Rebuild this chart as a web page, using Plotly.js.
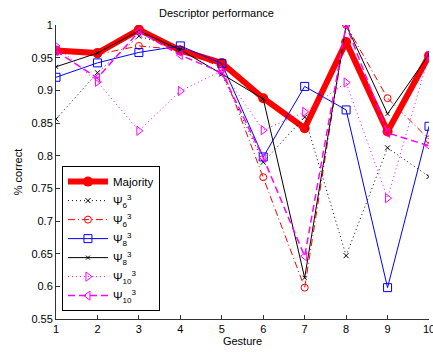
<!DOCTYPE html>
<html>
<head>
<meta charset="utf-8">
<script src="https://cdn.plot.ly/plotly-3.0.1.min.js"></script>
<style>html,body{margin:0;padding:0;background:#fff}#chart{width:433px;height:352px}</style>
</head>
<body>
<div id="chart"></div>
<script>
const gestures = [1, 2, 3, 4, 5, 6, 7, 8, 9, 10];
const majority = [0.961, 0.957, 0.993, 0.961, 0.942, 0.888, 0.842, 0.974, 0.837, 0.953];
const psi6Dot  = [0.856, 0.927, 0.983, 0.963, 0.925, 0.790, 0.859, 0.647, 0.812, 0.768];
const psi6Dash = [0.960, 0.955, 0.968, 0.962, 0.935, 0.767, 0.598, 1.000, 0.888, 0.825];
const psi8Sq   = [0.920, 0.942, 0.958, 0.968, 0.941, 0.798, 0.906, 0.870, 0.598, 0.845];
const psi8X    = [0.936, 0.957, 0.991, 0.962, 0.925, 0.887, 0.613, 1.000, 0.864, 0.955];
const psi10Dot = [0.968, 0.913, 0.838, 0.899, 0.930, 0.839, 0.867, 0.912, 0.735, 0.953];
const psi10Dash= [0.960, 0.919, 0.990, 0.954, 0.927, 0.797, 0.646, 1.000, 0.835, 0.815];
const seriesNames = ['Majority', 'Ψ<sub>6</sub><sup>3</sup>', 'Ψ<sub>6</sub><sup>3</sup>', 'Ψ<sub>8</sub><sup>3</sup>', 'Ψ<sub>8</sub><sup>3</sup>', 'Ψ<sub>10</sub><sup>3</sup>', 'Ψ<sub>10</sub><sup>3</sup>'];
const yTicks = [0.55, 0.6, 0.65, 0.7, 0.75, 0.8, 0.85, 0.9, 0.95, 1];
const yTickText = ['0.55', '0.6', '0.65', '0.7', '0.75', '0.8', '0.85', '0.9', '0.95', '1'];

const traces = [
  {x: gestures, y: majority, name: seriesNames[0], mode: 'lines+markers',
   line: {color: '#ff0000', width: 6}, marker: {symbol: 'circle', size: 10, color: '#ff0000'}},
  {x: gestures, y: psi6Dot, name: seriesNames[1], mode: 'lines+markers',
   line: {color: '#000000', width: 1, dash: '1px,3px'}, marker: {symbol: 'x-thin-open', size: 5, color: '#000', line: {width: 1, color: '#000'}}},
  {x: gestures, y: psi6Dash, name: seriesNames[2], mode: 'lines+markers',
   line: {color: '#ff0000', width: 1, dash: '7px,3px,1px,3px'}, marker: {symbol: 'circle-open', size: 7, color: '#ff0000', line: {width: 1}}},
  {x: gestures, y: psi8Sq, name: seriesNames[3], mode: 'lines+markers',
   line: {color: '#0000ff', width: 1}, marker: {symbol: 'square-open', size: 8, color: '#0000ff', line: {width: 1}}},
  {x: gestures, y: psi8X, name: seriesNames[4], mode: 'lines+markers',
   line: {color: '#000000', width: 1}, marker: {symbol: 'x-thin-open', size: 4, color: '#000', line: {width: 1, color: '#000'}}},
  {x: gestures, y: psi10Dot, name: seriesNames[5], mode: 'lines+markers',
   line: {color: '#ff00ff', width: 1, dash: '1px,3px'}, marker: {symbol: 'triangle-right-open', size: 8, color: '#ff00ff', line: {width: 1}}},
  {x: gestures, y: psi10Dash, name: seriesNames[6], mode: 'lines+markers',
   line: {color: '#ff00ff', width: 1.5, dash: '7px,4px'}, marker: {symbol: 'triangle-left-open', size: 8, color: '#ff00ff', line: {width: 1}}}
];

const layout = {
  width: 433, height: 352,
  margin: {l: 56, r: 4, t: 25, b: 33},
  paper_bgcolor: '#fff', plot_bgcolor: '#fff',
  font: {family: '"Liberation Sans", Arial, sans-serif', size: 11, color: '#000'},
  title: {text: 'Descriptor performance', font: {size: 11, color: '#000'}, x: 0.5, xanchor: 'center', y: 0.963, yanchor: 'middle'},
  showlegend: true,
  legend: {x: 0.016, y: 0.52, xanchor: 'left', yanchor: 'top', bgcolor: '#fff', bordercolor: '#000', borderwidth: 1,
           font: {size: 11.5, color: '#000'}, itemwidth: 40, tracegroupgap: 0},
  xaxis: {range: [1, 10], tickvals: gestures, ticks: 'inside', ticklen: 4, tickcolor: '#333', ticklabeloverflow: 'allow',
          showgrid: false, zeroline: false, showline: true, linecolor: '#333', linewidth: 1, mirror: false,
          title: {text: 'Gesture', font: {size: 11}, standoff: 2}, tickfont: {size: 11}},
  yaxis: {range: [0.55, 1], tickvals: yTicks, ticktext: yTickText, ticks: 'inside', ticklen: 4, tickcolor: '#333',
          showgrid: false, zeroline: false, showline: true, linecolor: '#333', linewidth: 1, mirror: false,
          title: {text: '% correct', font: {size: 11}, standoff: 6}, tickfont: {size: 11}}
};

Plotly.newPlot('chart', traces, layout, {displayModeBar: false, staticPlot: true});
</script>
</body>
</html>
